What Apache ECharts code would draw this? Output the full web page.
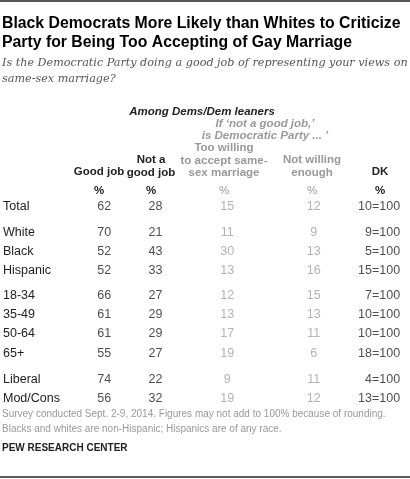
<!DOCTYPE html>
<html><head><meta charset="utf-8">
<script src="https://cdn.jsdelivr.net/npm/echarts@6/dist/echarts.min.js"></script>
<style>html,body{margin:0;padding:0;background:#fff;}#chart{width:410px;height:479px;}</style>
</head><body><div id="chart"></div>
<script>
// row groups
var groups=[
	['Total'],
	['White','Black','Hispanic'],
	['18-34','35-49','50-64','65+'],
	['Liberal','Mod/Cons']
];
var goodJob=[62,70,52,52,66,61,61,55,74,56];
var notGood=[28,21,43,33,27,29,29,27,22,32];
var tooWilling=[15,11,30,13,12,13,17,19,9,19];
var notWilling=[12,9,13,16,15,13,11,6,11,12];
var dk=[10,9,5,15,7,10,10,18,4,13];

var FONT='"Liberation Sans", Arial, sans-serif';
var gridTops=[196.5,222.5,286,370];
var rowH=19.2;
// column centres in px (layout only)
var colX=[99,151,224,312,400];

var chart=echarts.init(document.getElementById('chart'));
var grids=[],xAxes=[],yAxes=[],series=[];
var idx=0;
for(var g=0;g<groups.length;g++){
	var rows=groups[g];
	grids.push({left:0,right:0,top:gridTops[g],height:rows.length*rowH});
	xAxes.push({gridIndex:g,type:'value',min:0,max:410,show:false});
	yAxes.push({gridIndex:g,type:'category',data:rows,inverse:true,
		axisLine:{show:false},axisTick:{show:false},splitLine:{show:false},
		axisLabel:{inside:true,margin:-4,align:'left',color:'#222',fontSize:12.5,fontFamily:FONT}});
	var cols=[goodJob,notGood,tooWilling,notWilling,dk];
	for(var c=0;c<cols.length;c++){
		var data=[];
		for(var r=0;r<rows.length;r++){
			var v=cols[c][idx+r];
			data.push({value:[colX[c],rows[r]],txt:c==4?(v+'=100'):String(v)});
		}
		series.push({type:'scatter',xAxisIndex:g,yAxisIndex:g,symbolSize:0,data:data,silent:true,
			label:{show:true,position:'inside',
				formatter:function(p){return p.data.txt;},
				align:c==4?'right':'center',
				color:(c==2||c==3)?'#a0a0a0':'#222',fontSize:12.5,fontFamily:FONT}});
	}
	idx+=rows.length;
}

var hb='bold 11.5px '+FONT, hg='bold 11.5px '+FONT;
var graphic=[
	{type:'line',shape:{x1:0,y1:1,x2:410,y2:1},style:{stroke:'#222',lineWidth:1.5}},
	{type:'line',shape:{x1:0,y1:477,x2:410,y2:477},style:{stroke:'#222',lineWidth:1.5}},
	{type:'text',x:2,y:16,style:{text:'Black Democrats More Likely than Whites to Criticize',fill:'#000',font:'bold 15.8px '+FONT}},
	{type:'text',x:2,y:35,style:{text:'Party for Being Too Accepting of Gay Marriage',fill:'#000',font:'bold 15.8px '+FONT}},
	{type:'text',x:2,y:58,style:{text:'Is the Democratic Party doing a good job of representing your views on',fill:'#555',font:'italic 11.2px "DejaVu Serif", serif'}},
	{type:'text',x:2,y:74,style:{text:'same-sex marriage?',fill:'#555',font:'italic 11.2px "DejaVu Serif", serif'}},
	{type:'text',x:202,y:106,style:{text:'Among Dems/Dem leaners',fill:'#222',font:'bold italic 11.5px '+FONT,align:'center'}},
	{type:'text',x:265,y:118,style:{text:'If \u2018not a good job,\u2019',fill:'#999',font:'bold italic 11.5px '+FONT,align:'center'}},
	{type:'text',x:265,y:130,style:{text:'is Democratic Party ... \u2019',fill:'#999',font:'bold italic 11.5px '+FONT,align:'center'}},
	{type:'text',x:224,y:142,style:{text:'Too willing\nto accept same-\nsex marriage',fill:'#999',font:hg,align:'center',lineHeight:12.3}},
	{type:'text',x:312,y:154,style:{text:'Not willing\nenough',fill:'#999',font:hg,align:'center',lineHeight:12.3}},
	{type:'text',x:151,y:154,style:{text:'Not a\ngood job',fill:'#222',font:hb,align:'center',lineHeight:12.3}},
	{type:'text',x:99,y:166,style:{text:'Good job',fill:'#222',font:hb,align:'center'}},
	{type:'text',x:380,y:166,style:{text:'DK',fill:'#222',font:hb,align:'center'}},
	{type:'text',x:99,y:185,style:{text:'%',fill:'#222',font:hb,align:'center'}},
	{type:'text',x:151,y:185,style:{text:'%',fill:'#222',font:hb,align:'center'}},
	{type:'text',x:224,y:185,style:{text:'%',fill:'#999',font:'11.5px '+FONT,align:'center'}},
	{type:'text',x:312,y:185,style:{text:'%',fill:'#999',font:'11.5px '+FONT,align:'center'}},
	{type:'text',x:380,y:185,style:{text:'%',fill:'#222',font:hb,align:'center'}},
	{type:'text',x:2,y:407,style:{text:'Survey conducted Sept. 2-9, 2014. Figures may not add to 100% because of rounding.\nBlacks and whites are non-Hispanic; Hispanics are of any race.',fill:'#999',font:'10px '+FONT,lineHeight:15}},
	{type:'text',x:2,y:443,style:{text:'PEW RESEARCH CENTER',fill:'#222',font:'bold 10px '+FONT}}
];

chart.setOption({animation:false,grid:grids,xAxis:xAxes,yAxis:yAxes,series:series,graphic:graphic});
</script></body></html>
